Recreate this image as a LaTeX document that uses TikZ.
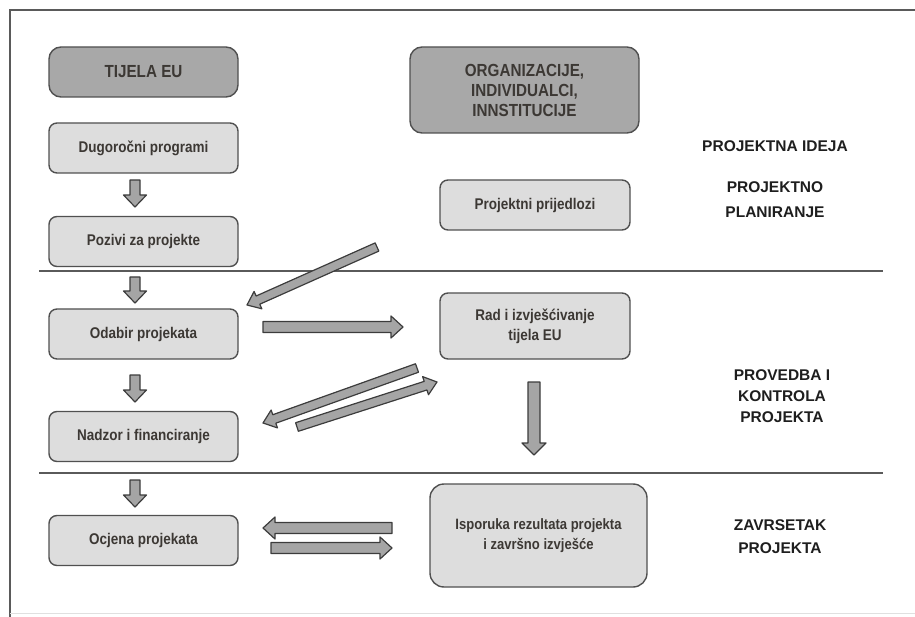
\documentclass[tikz,border=0pt]{standalone}
\usepackage{fontspec}
\setmainfont{Liberation Sans}
\newfontfamily\narrowsf{Liberation Sans}[FakeStretch=0.87]
\usetikzlibrary{calc}

\definecolor{boxlight}{RGB}{221,221,221}
\definecolor{boxdark}{RGB}{168,168,168}
\definecolor{boxline}{RGB}{80,80,80}
\definecolor{arrowfill}{RGB}{165,165,165}
\definecolor{arrowline}{RGB}{60,60,60}
\definecolor{txtbox}{RGB}{60,56,52}
\definecolor{txtphase}{RGB}{30,30,30}
\definecolor{frameline}{RGB}{90,90,90}

\tikzset{
  stepbox/.style={draw=boxline, line width=1.4pt, fill=boxlight, rounded corners=8pt,
    minimum width=189pt, minimum height=50pt, inner sep=2pt, align=center, text=txtbox,
    font=\narrowsf\bfseries\fontsize{15.5}{20}\selectfont},
  headbox/.style={stepbox, fill=boxdark, rounded corners=12pt,
    font=\narrowsf\bfseries\fontsize{17.5}{20}\selectfont},
  phase/.style={align=center, text=txtphase, font=\bfseries\fontsize{15.5}{21}\selectfont},
  arrowbody/.style={fill=arrowfill, draw=arrowline, line width=1.2pt, line join=round},
}

% block arrow: start, end, half shaft width, half head width
\newcommand{\blockarrow}[4]{%
  \path ($(#2)!12pt!(#1)$) coordinate (hb);
  \filldraw[arrowbody] ($(#1)!#3!90:(#2)$) -- ($(hb)!#3!-90:(#1)$) -- ($(hb)!#4!-90:(#1)$)
    -- (#2) -- ($(hb)!#4!90:(#1)$) -- ($(hb)!#3!90:(#1)$) -- ($(#1)!#3!-90:(#2)$) -- cycle;
}

\begin{document}
\begin{tikzpicture}[x=1pt,y=1pt,yscale=-1]
\useasboundingbox (0,0) rectangle (915,617);

% frame and phase separators
\draw[frameline, line width=2pt] (10,617) -- (10,10) -- (915,10);
\draw[black!12, line width=1pt] (10,613) -- (915,613);
\draw[frameline, line width=1.8pt] (39,271) -- (883,271);
\draw[frameline, line width=1.8pt] (39,473) -- (883,473);

% left column
\node[headbox] (eu) at (143.5,72) {TIJELA EU};
\node[stepbox] (dug) at (143.5,148) {Dugoročni programi};
\node[stepbox] (poz) at (143.5,241.5) {Pozivi za projekte};
\node[stepbox] (oda) at (143.5,334) {Odabir projekata};
\node[stepbox] (nad) at (143.5,436.5) {Nadzor i financiranje};
\node[stepbox] (ocj) at (143.5,540.5) {Ocjena projekata};

% right column
\node[headbox, minimum width=229pt, minimum height=86pt] (org) at (524.5,90)
  {ORGANIZACIJE,\\INDIVIDUALCI,\\INNSTITUCIJE};
\node[stepbox, minimum width=190pt] (pri) at (535,205) {Projektni prijedlozi};
\node[stepbox, minimum width=190pt, minimum height=66pt] (rad) at (535,326)
  {Rad i izvješćivanje\\tijela EU};
\node[stepbox, minimum width=217pt, minimum height=103pt, rounded corners=14pt,
  font=\narrowsf\bfseries\fontsize{15}{20}\selectfont] (isp) at (538.5,535.5)
  {Isporuka rezultata projekta\\i završno izvješće};

% phases
\node[phase] (idea) at (775,146) {PROJEKTNA IDEJA};
\node[phase, font=\bfseries\fontsize{15.5}{25}\selectfont] (plan) at (775,200) {PROJEKTNO\\PLANIRANJE};
\node[phase] (impl) at (782,396) {PROVEDBA I\\KONTROLA\\PROJEKTA};
\node[phase, font=\bfseries\fontsize{15.5}{23}\selectfont] (done) at (780,537) {ZAVRSETAK\\PROJEKTA};

% arrow ends
\coordinate (d1s) at (135,180); \coordinate (d1e) at (135,207);
\coordinate (d2s) at (135,277); \coordinate (d2e) at (135,303);
\coordinate (d3s) at (135,375); \coordinate (d3e) at (135,402);
\coordinate (d4s) at (135,480); \coordinate (d4e) at (135,507);
\coordinate (pris) at (377,247); \coordinate (prie) at (247,305);
\coordinate (odas) at (263,327); \coordinate (odae) at (403,327);
\coordinate (rads) at (417,368); \coordinate (rade) at (263,423);
\coordinate (nads) at (297,427); \coordinate (nade) at (437,382);
\coordinate (vs) at (534,382); \coordinate (ve) at (534,455);
\coordinate (isps) at (392,528); \coordinate (ispe) at (263,528);
\coordinate (ocjs) at (271,548); \coordinate (ocje) at (392,548);

% arrows
\blockarrow{d1s}{d1e}{5pt}{11.5pt}
\blockarrow{d2s}{d2e}{5pt}{11.5pt}
\blockarrow{d3s}{d3e}{5pt}{11.5pt}
\blockarrow{d4s}{d4e}{5pt}{11.5pt}
\blockarrow{pris}{prie}{4.5pt}{9.5pt}
\blockarrow{odas}{odae}{5.5pt}{11pt}
\blockarrow{rads}{rade}{4.5pt}{9.5pt}
\blockarrow{nads}{nade}{4.5pt}{9.5pt}
\blockarrow{vs}{ve}{6pt}{12pt}
\blockarrow{isps}{ispe}{5.5pt}{11pt}
\blockarrow{ocjs}{ocje}{5.5pt}{11pt}

\end{tikzpicture}
\end{document}
